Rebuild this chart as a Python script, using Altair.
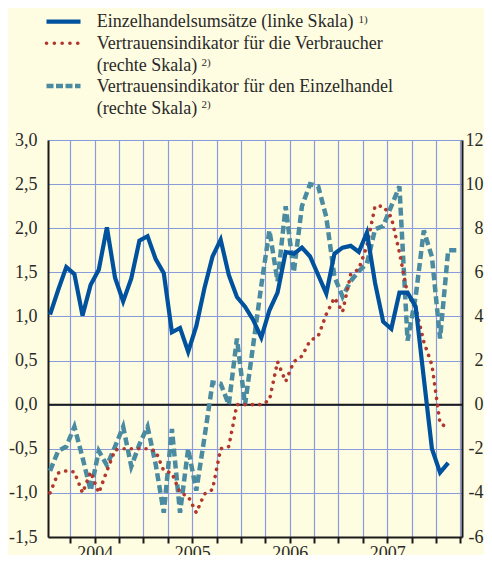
import altair as alt
import pandas as pd

# ---------------- data (monthly, from January 2004) ----------------
YEARS = ["2004", "2005", "2006", "2007"]
LEFT_TICKS = [-1.5, -1.0, -0.5, 0.0, 0.5, 1.0, 1.5, 2.0, 2.5, 3.0]
RIGHT_TICKS = [-6, -4, -2, 0, 2, 4, 6, 8, 10, 12]

# Einzelhandelsumsätze (linke Skala)
retail_sales = [1.02, 1.30, 1.56, 1.48, 1.01, 1.36, 1.53, 2.01, 1.44, 1.17,
                1.43, 1.86, 1.91, 1.65, 1.49, 0.82, 0.87, 0.60, 0.89, 1.32,
                1.68, 1.87, 1.47, 1.22, 1.11, 0.96, 0.76, 1.07, 1.27, 1.73,
                1.71, 1.78, 1.68, 1.47, 1.26, 1.71, 1.78, 1.80, 1.73, 1.95,
                1.38, 0.94, 0.86, 1.27, 1.27, 1.11, 0.30, -0.50, -0.77, -0.66]

# Vertrauensindikator für die Verbraucher (rechte Skala)
consumer_conf = [-4.0, -3.1, -3.0, -3.05, -4.0, -3.05, -4.0, -3.0, -2.05, -2.0,
                 -2.0, -2.0, -2.0, -2.1, -3.0, -3.1, -4.0, -4.15, -4.9, -4.05,
                 -3.85, -2.0, -1.9, 0.0, 0.0, 0.0, 0.0, 0.2, 1.95, 1.05,
                 1.95, 2.2, 2.9, 3.1, 4.1, 4.85, 4.2, 5.9, 6.15, 7.2,
                 9.0, 9.0, 8.5, 6.9, 5.0, 4.4, 2.85, 1.8, -0.85, -1.05]

# Vertrauensindikator für den Einzelhandel (rechte Skala)
retail_conf = [-3.0, -2.1, -1.9, -1.0, -2.4, -3.9, -2.1, -2.75, -1.9, -1.0,
               -2.8, -1.8, -1.0, -2.7, -4.9, -1.1, -4.9, -2.0, -3.9, -1.5,
               1.0, 0.95, 0.0, 3.0, 0.0, 2.7, 5.4, 7.9, 5.6, 9.0,
               6.0, 9.0, 10.0, 9.9, 8.5, 5.8, 4.9, 5.6, 6.05, 6.4,
               7.95, 8.1, 9.0, 9.9, 2.9, 4.9, 7.9, 6.7, 3.0, 7.0, 7.0]

LEGEND_1 = "Einzelhandelsumsätze (linke Skala)"
LEGEND_2A = "Vertrauensindikator für die Verbraucher"
LEGEND_2B = "(rechte Skala)"
LEGEND_3A = "Vertrauensindikator für den Einzelhandel"
LEGEND_3B = "(rechte Skala)"


def frame(values):
    return pd.DataFrame({"t": [i + 0.5 for i in range(len(values))], "v": values})


# ---------------- style ----------------
BG = "#FFFDE1"
GRID = "#8A9BDB"
BLUE = "#00529E"
RED = "#B2372F"
TEAL = "#4A8BA1"
TEXT = "#2A2A2A"
FONT = "Liberation Serif"

X_DOMAIN = [0.25, 51.2]
quarters = list(range(3, 52, 3))
year_expr = "".join(
    f"datum.value == {12 * i + 6} ? '{y}' : " for i, y in enumerate(YEARS)
) + "''"

x_axis = alt.Axis(
    values=quarters, labelExpr=year_expr, grid=True, gridColor=GRID, gridWidth=1.2,
    domain=True, domainColor="#1a1a1a", domainWidth=2,
    ticks=True, tickColor="#1a1a1a", tickWidth=2, tickSize=6,
    labelFont=FONT, labelFontSize=18, labelColor=TEXT, labelPadding=1,
    labelOverlap=False, labelFlush=False, title=None,
)


def X():
    return alt.X("t:Q", scale=alt.Scale(domain=X_DOMAIN, nice=False, zero=False), axis=x_axis)


left_axis = alt.Axis(
    orient="left", values=LEFT_TICKS,
    labelExpr="(datum.value < 0 ? '-' : '') + replace(format(abs(datum.value), '.1f'), '.', ',')",
    grid=True, gridColor=GRID, gridWidth=1.2,
    domain=True, domainColor="#1a1a1a", domainWidth=2, ticks=False,
    labelFont=FONT, labelFontSize=18, labelColor=TEXT, labelPadding=11, title=None,
)
right_axis = alt.Axis(
    orient="right", values=RIGHT_TICKS,
    labelExpr="(datum.value < 0 ? '-' : '') + format(abs(datum.value), 'd')",
    grid=False, domain=True, domainColor="#1a1a1a", domainWidth=2, ticks=False,
    labelFont=FONT, labelFontSize=18, labelColor=TEXT, labelPadding=21,
    labelAlign="right", title=None,
)

left_scale = alt.Scale(domain=[-1.5, 3.0], nice=False, zero=False)
right_scale = alt.Scale(domain=[-6, 12], nice=False, zero=False)

zero_line = alt.Chart(pd.DataFrame({"t": [0.25], "v": [0.0]})).mark_rule(
    color="#1a1a1a", strokeWidth=2
).encode(y=alt.Y("v:Q", scale=right_scale, axis=right_axis))

teal_line = alt.Chart(frame(retail_conf)).mark_line(
    color=TEAL, strokeWidth=4.5, strokeDash=[8, 4]
).encode(x=X(), y=alt.Y("v:Q", scale=right_scale, axis=right_axis))

red_line = alt.Chart(frame(consumer_conf)).mark_line(
    color=RED, strokeWidth=3.6, strokeDash=[0.1, 7.2], strokeCap="round"
).encode(x=X(), y=alt.Y("v:Q", scale=right_scale, axis=right_axis))

right_group = alt.layer(zero_line, teal_line, red_line)

blue_line = alt.Chart(frame(retail_sales)).mark_line(
    color=BLUE, strokeWidth=4.2
).encode(x=X(), y=alt.Y("v:Q", scale=left_scale, axis=left_axis))

# ---------------- legend (drawn above the plot area) ----------------
one = pd.DataFrame({"d": [0]})


def sym(y, **style):
    return alt.Chart(one).mark_rule(**style).encode(
        x=alt.value(-1.5), x2=alt.value(32.5), y=alt.value(y)
    )


def txt(text, x, y, size=18):
    return alt.Chart(one).mark_text(
        text=text, align="left", baseline="alphabetic", font=FONT,
        fontSize=size, color=TEXT
    ).encode(x=alt.value(x), y=alt.value(y))


legend = [
    sym(-118.3, color=BLUE, strokeWidth=4.2),
    sym(-96.7, color=RED, strokeWidth=3.6, strokeDash=[0.1, 7.7], strokeCap="round"),
    sym(-54.0, color=TEAL, strokeWidth=4.5, strokeDash=[7, 2.5]),
    txt(LEGEND_1, 48.7, -112.7),
    txt("1)", 310.5, -117.5, 11),
    txt(LEGEND_2A, 48.7, -90.7),
    txt(LEGEND_2B, 48.7, -69.0),
    txt("2)", 153.4, -74.3, 11),
    txt(LEGEND_3A, 48.7, -48.0),
    txt(LEGEND_3B, 48.7, -26.3),
    txt("2)", 153.4, -31.6, 11),
]

chart = alt.layer(right_group, blue_line, *legend).resolve_scale(
    y="independent"
).properties(
    width=414, height=397,
    autosize=alt.AutoSizeParams(type="none"),
    padding={"left": 40, "top": 132, "right": 22, "bottom": 18},
    background=BG,
).configure_view(stroke=None)

chart.save("out.html", embed_options={"renderer": "svg", "actions": False})
